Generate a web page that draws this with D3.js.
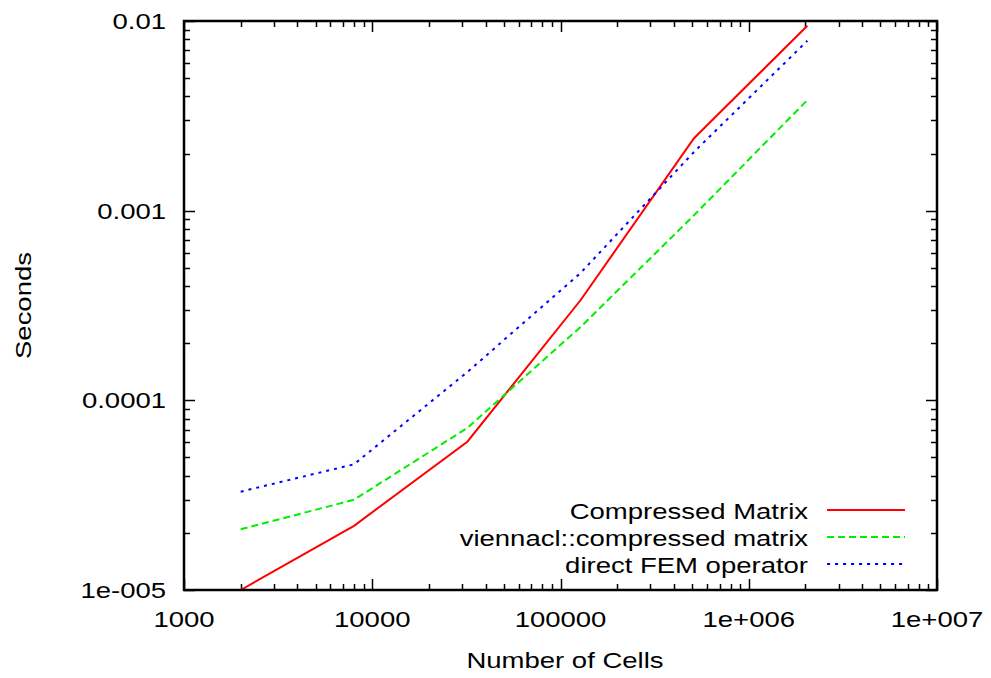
<!DOCTYPE html>
<html>
<head>
<meta charset="utf-8">
<script src="https://cdn.jsdelivr.net/npm/d3@7"></script>
<style>
  html, body { margin: 0; padding: 0; background: #fff; }
  svg { display: block; font-family: "Liberation Sans", Arial, Helvetica, sans-serif; }
</style>
</head>
<body>
<svg id="chart" width="991" height="678"></svg>
<script>
// Problem sizes (number of cells)
const cells = [2000, 8000, 32000, 128000, 512000, 2048000];

// Run times in seconds for each implementation
const compressedMatrix = [1.0e-5, 2.18e-5, 6.05e-5, 3.38e-4, 2.41e-3, 9.44e-3];
const viennaclMatrix   = [2.09e-5, 2.99e-5, 7.15e-5, 2.44e-4, 9.46e-4, 3.83e-3];
const directFem        = [3.30e-5, 4.60e-5, 1.41e-4, 4.70e-4, 2.04e-3, 7.87e-3];

const seriesNames = ["Compressed Matrix", "viennacl::compressed matrix", "direct FEM operator"];

const xTickLabels = ["1000", "10000", "100000", "1e+006", "1e+007"];
const yTickLabels = ["1e-005", "0.0001", "0.001", "0.01"];

const xMajor = [1e3, 1e4, 1e5, 1e6, 1e7];
const yMajor = [1e-5, 1e-4, 1e-3, 1e-2];

const series = [
  { name: seriesNames[0], values: compressedMatrix, color: "#ff0000", dash: null },
  { name: seriesNames[1], values: viennaclMatrix,   color: "#00ee00", dash: "7,4" },
  { name: seriesNames[2], values: directFem,        color: "#0000ff", dash: "3,5" }
];

const svg = d3.select("#chart");
const plotLeft = 184, plotRight = 937, plotTop = 21, plotBottom = 590;

const x = d3.scaleLog().domain([1e3, 1e7]).range([plotLeft, plotRight]);
const y = d3.scaleLog().domain([1e-5, 1e-2]).range([plotBottom, plotTop]);

// minor tick positions: 2..9 times each decade
function minors(majors) {
  const out = [];
  for (let i = 0; i < majors.length - 1; i++)
    for (let k = 2; k <= 9; k++) out.push(majors[i] * k);
  return out;
}
const xMinor = minors(xMajor);
const yMinor = minors(yMajor);

const fontSize = 22;
const stretch = 1.25; // wide terminal-style lettering

// text helper: places a horizontally widened label
function label(parent, px, py, str, anchor, opts = {}) {
  const rot = opts.rotate || 0;
  return parent.append("text")
    .attr("transform", `translate(${px},${py}) rotate(${rot}) scale(${stretch},1)`)
    .attr("text-anchor", anchor)
    .attr("dy", opts.dy || null)
    .attr("font-size", fontSize)
    .attr("fill", "#000")
    .text(str);
}

// clip region for the data lines
svg.append("defs").append("clipPath").attr("id", "plotclip")
  .append("rect").attr("x", plotLeft).attr("y", plotTop)
  .attr("width", plotRight - plotLeft).attr("height", plotBottom - plotTop);

// Ticks on all four sides, pointing inward
const tickG = svg.append("g").attr("stroke", "#000").attr("stroke-width", 1.5);
function xTicks(vals, len) {
  vals.forEach(v => {
    const px = Math.round(x(v)) + 0.5;
    tickG.append("line").attr("x1", px).attr("x2", px).attr("y1", plotBottom).attr("y2", plotBottom - len);
    tickG.append("line").attr("x1", px).attr("x2", px).attr("y1", plotTop).attr("y2", plotTop + len);
  });
}
function yTicks(vals, len) {
  vals.forEach(v => {
    const py = Math.round(y(v)) + 0.5;
    tickG.append("line").attr("y1", py).attr("y2", py).attr("x1", plotLeft).attr("x2", plotLeft + len);
    tickG.append("line").attr("y1", py).attr("y2", py).attr("x1", plotRight).attr("x2", plotRight - len);
  });
}
xTicks(xMajor, 11);
xTicks(xMinor, 6);
yTicks(yMajor, 11);
yTicks(yMinor, 6);

// Tick labels
const xLabG = svg.append("g");
xMajor.forEach((v, i) => label(xLabG, x(v), 627, xTickLabels[i], "middle"));
const yLabG = svg.append("g");
yMajor.forEach((v, i) => label(yLabG, 166, y(v), yTickLabels[i], "end", { dy: "0.36em" }));

// Axis titles
label(svg, 565, 668, "Number of Cells", "middle");
label(svg, 31, (plotTop + plotBottom) / 2, "Seconds", "middle", { rotate: -90 });

// Data lines
const line = d3.line().x((d, i) => x(cells[i])).y(d => y(d));
const linesG = svg.append("g").attr("clip-path", "url(#plotclip)");
series.forEach(s => {
  linesG.append("path")
    .attr("d", line(s.values))
    .attr("fill", "none")
    .attr("stroke", s.color)
    .attr("stroke-width", 2)
    .attr("stroke-dasharray", s.dash);
});

// Legend
const legendY = [511, 538, 565];
const legend = svg.append("g");
series.forEach((s, i) => {
  label(legend, 808, legendY[i], s.name, "end", { dy: "0.36em" });
  legend.append("line")
    .attr("x1", 827).attr("x2", 905)
    .attr("y1", legendY[i] - 1).attr("y2", legendY[i] - 1)
    .attr("stroke", s.color).attr("stroke-width", 2)
    .attr("stroke-dasharray", s.dash);
});

// Frame
svg.append("rect")
  .attr("x", plotLeft).attr("y", plotTop)
  .attr("width", plotRight - plotLeft).attr("height", plotBottom - plotTop)
  .attr("fill", "none").attr("stroke", "#000").attr("stroke-width", 2.5);
</script>
</body>
</html>
